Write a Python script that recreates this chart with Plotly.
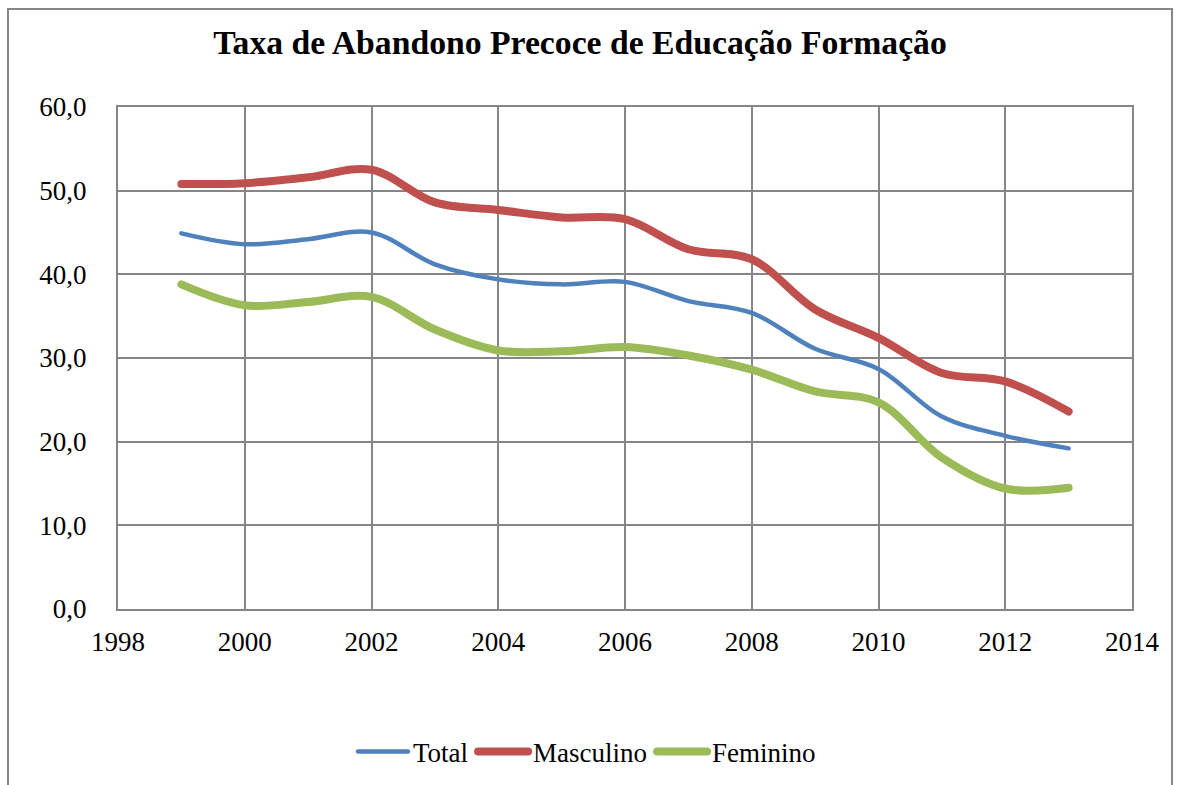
import plotly.graph_objects as go

anos = list(range(1999, 2014))

total = [44.9, 43.6, 44.2, 45.0, 41.2, 39.4, 38.8, 39.1, 36.8, 35.4, 31.1, 28.7, 23.0, 20.7, 19.2]
masculino = [50.8, 50.9, 51.6, 52.5, 48.6, 47.7, 46.8, 46.6, 43.0, 41.8, 35.8, 32.4, 28.2, 27.2, 23.6]
feminino = [38.8, 36.3, 36.7, 37.3, 33.4, 30.9, 30.8, 31.3, 30.3, 28.6, 26.0, 24.7, 18.1, 14.4, 14.5]

serie_nomes = ["Total", "Masculino", "Feminino"]
cores = ["#4F81BD", "#C0504D", "#9BBB59"]
larguras = [4.5, 8, 8]

fonte = "Liberation Serif"
cinza = "#868686"

fig = go.Figure()
for nome, valores, cor, w in zip(serie_nomes, [total, masculino, feminino], cores, larguras):
    fig.add_trace(go.Scatter(x=anos, y=valores, name=nome, mode="lines",
                             line=dict(color=cor, width=w, shape="spline", smoothing=1.0)))

fig.update_layout(
    width=1183, height=785,
    margin=dict(l=118, r=51, t=107, b=176, autoexpand=False),
    paper_bgcolor="white", plot_bgcolor="white",
    separators=",.",
    font=dict(family=fonte, size=27, color="black"),
    title=dict(text="<b>Taxa de Abandono Precoce de Educação Formação</b>",
               font=dict(family=fonte, size=33.7, color="black"),
               x=580 / 1183, xanchor="center", xref="container",
               y=1 - 42 / 785, yanchor="middle", yref="container"),
    legend=dict(orientation="h", x=0.4625, xanchor="center", y=-0.285, yanchor="middle",
                font=dict(family=fonte, size=27), itemwidth=50),
    showlegend=True,
)

fig.update_xaxes(range=[1998, 2014], dtick=2, tick0=1998, showgrid=True, gridcolor=cinza,
                 gridwidth=2, showline=True, linecolor=cinza, linewidth=2, mirror=True,
                 ticks="", ticklabelstandoff=8, zeroline=False, automargin=False)
fig.update_yaxes(range=[0, 60], dtick=10, tickformat=".1f", showgrid=True, gridcolor=cinza,
                 gridwidth=2, showline=True, linecolor=cinza, linewidth=2, mirror=True,
                 ticks="", ticklabelstandoff=24, zeroline=False, automargin=False)

# moldura exterior do gráfico
fig.add_shape(type="rect", xref="paper", yref="paper",
              x0=(8 - 118) / 1014, x1=(1172 - 118) / 1014,
              y0=(609 - 800) / 502, y1=(609 - 9) / 502,
              line=dict(color=cinza, width=2), layer="below")

js = """document.body.style.margin='0px';
document.querySelectorAll('.scatterlayer .js-line, .legend .js-line').forEach(function(p){p.style.strokeLinecap='round';});"""
fig.write_html("out.html", config={"displayModeBar": False}, post_script=js)
